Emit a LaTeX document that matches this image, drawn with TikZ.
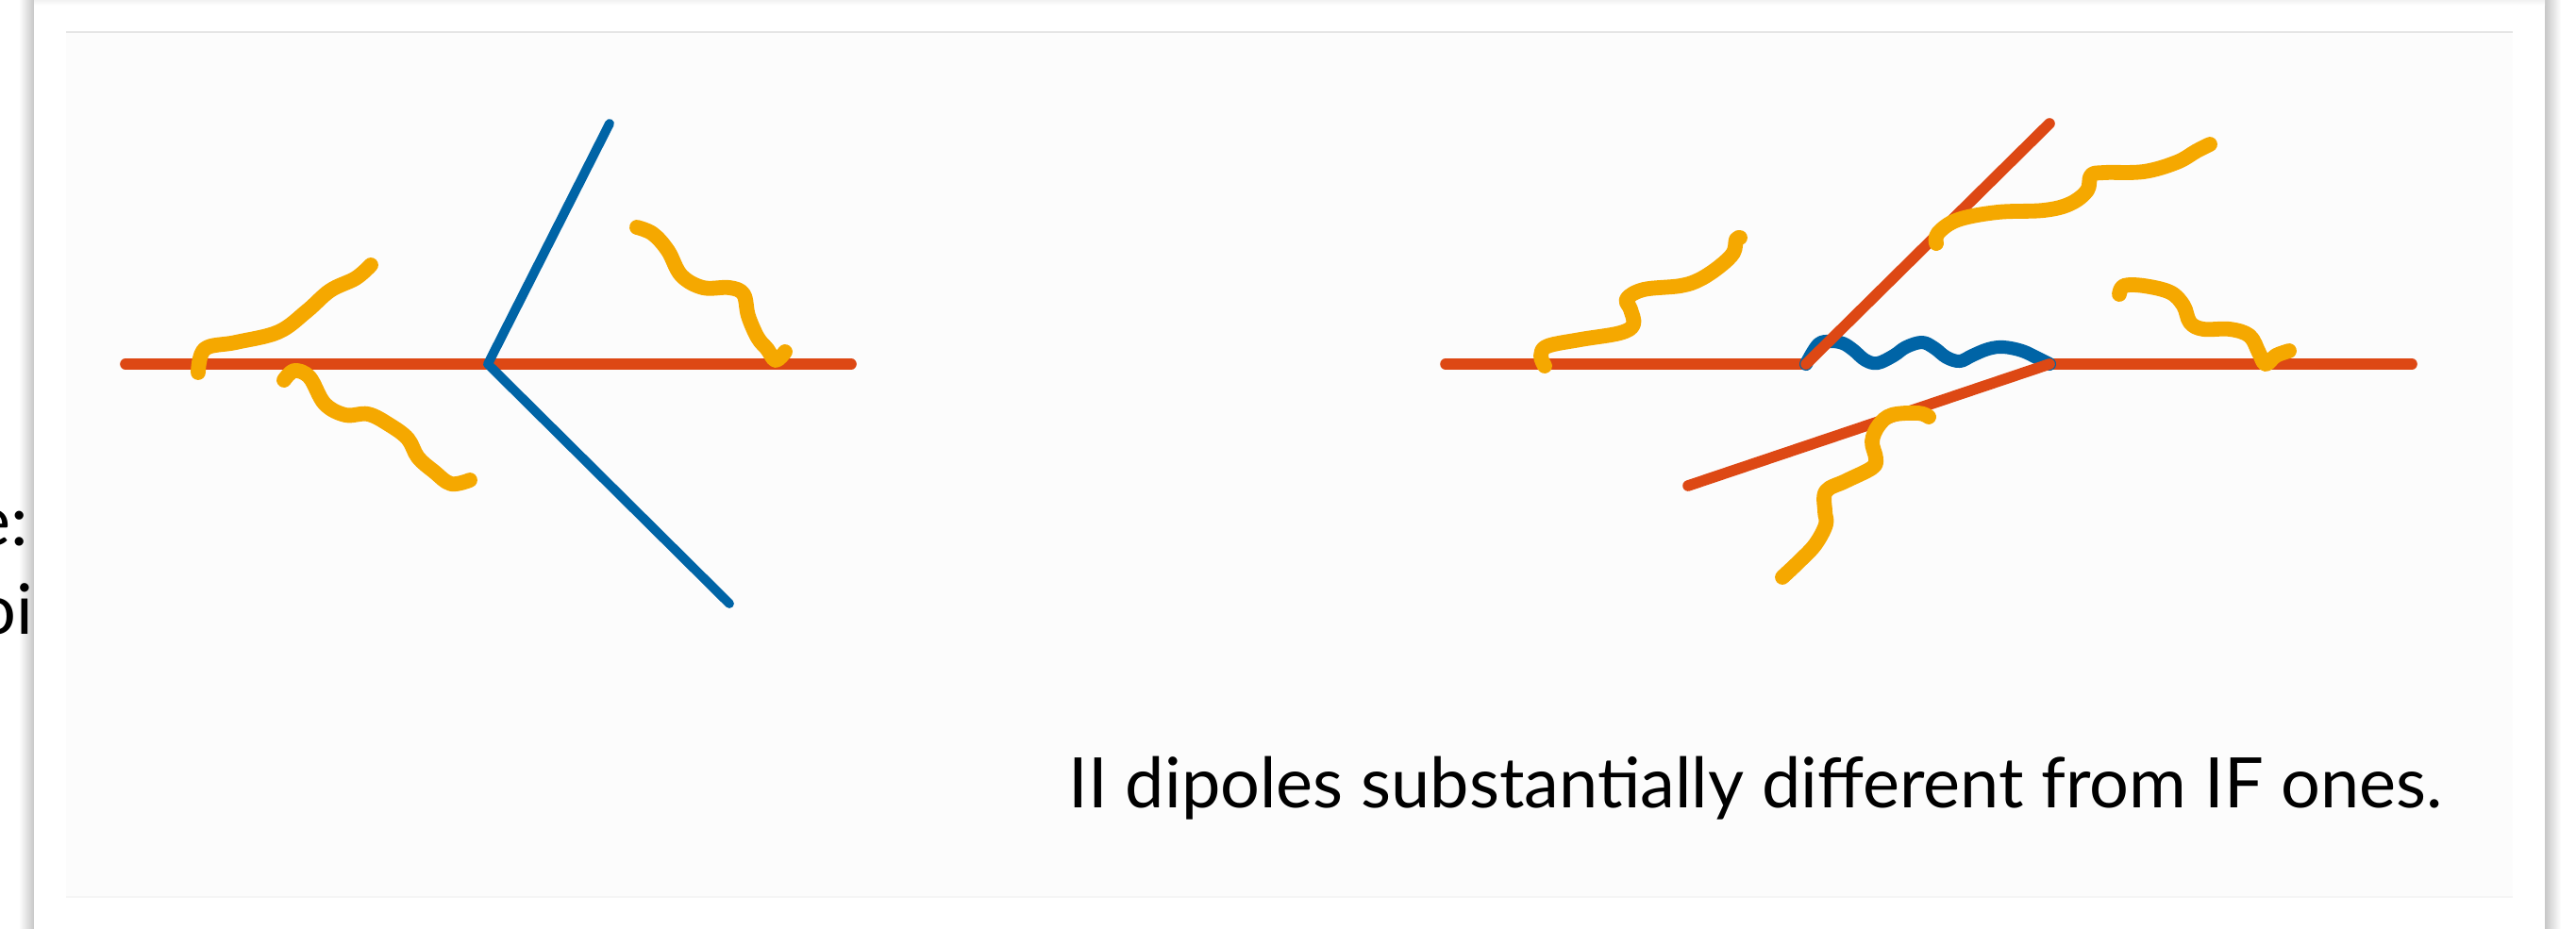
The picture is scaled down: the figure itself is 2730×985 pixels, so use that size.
\documentclass[tikz,border=0pt]{standalone}
\usepackage{fontspec}
\setmainfont{Lato}
\definecolor{qred}{HTML}{DD4814}
\definecolor{qblue}{HTML}{0064A6}
\definecolor{qgamma}{HTML}{F5A800}
\definecolor{qteal}{HTML}{00897B}
\tikzset{
  quark/.style={qred, line width=3.3pt, line cap=round},
  gluon/.style={qblue, line width=2.8pt, line cap=round, line join=round},
  photon/.style={qgamma, line width=4.5pt, line cap=round, line join=round},
  textfont/.style={font=\fontsize{21}{25}\selectfont, inner sep=0pt}
}

\begin{document}
\begin{tikzpicture}[x=0.01cm,y=-0.01cm]
\useasboundingbox (0,0) rectangle (2730,985);

% page behind the slide
\fill[qred] (992,0) rectangle (1000,2);
\fill[qgamma] (2189,0) rectangle (2228,2);
\fill[qteal] (2282,0) rectangle (2296,2);
\fill[qteal] (2323,0) rectangle (2339,2);
\shade[left color=white, right color=black!22] (20,0) rectangle (36,985);
\shade[left color=black!22, right color=white] (2697,0) rectangle (2714,985);
\node[textfont, anchor=base east] (frag1) at (31,578) {e:};
\node[textfont, anchor=base east] (frag2) at (36,672) {oi};

% slide
\fill[white] (36,2) rectangle (2697,985);
\shade[top color=black!5, bottom color=white] (36,0) rectangle (2697,6);
\fill[black!1] (70,34) rectangle (2663,951);
\draw[black!10, line width=0.7pt] (70,34) -- (2663,34);
\draw[black!4, line width=0.5pt] (70,951) -- (2663,951);

% dipole on the left
\coordinate (lq1) at (133,386);
\coordinate (lq2) at (902,386);
\coordinate (lv) at (517,386);
\coordinate (lg1) at (646,131);
\coordinate (lg2) at (773,640);
\draw[quark] (lq1) -- (lq2);
\draw[gluon] (lg1) -- (lv) -- (lg2);
\draw[photon] plot[smooth, tension=0.6] coordinates {(210,395) (217,370) (250,363) (295,352) (325,330) (350,308) (377,295) (393,281)};
\draw[photon] plot[smooth, tension=0.6] coordinates {(301,403) (312,393) (328,400) (344,428) (366,440) (390,439) (412,450) (432,465) (443,485) (460,500) (478,513) (498,509)};
\draw[photon] plot[smooth, tension=0.6] coordinates {(675,241) (692,248) (708,266) (722,292) (745,305) (773,305) (788,312) (793,335) (803,358) (813,370) (822,382) (832,373)};

% dipoles on the right
\coordinate (rq1) at (1532,386);
\coordinate (ra) at (1914,386);
\coordinate (rb) at (2172,386);
\coordinate (rq2) at (2556,386);
\coordinate (rt) at (2172,131);
\coordinate (rs) at (1789,515);
\draw[quark] (rq1) -- (ra);
\draw[quark] (rb) -- (rq2);
\draw[gluon, line width=4pt] plot[smooth, tension=0.6] coordinates {(ra) (1927,365) (1940,362) (1953,364) (1964,371) (1977,382) (1990,385) (2007,377) (2020,368) (2037,363) (2050,369) (2063,379) (2077,383) (2090,377) (2107,370) (2123,368) (2143,372) (2160,380) (rb)};
\draw[quark] (ra) -- (rt);
\draw[quark] (rs) -- (rb);
\draw[photon] plot[smooth, tension=0.6] coordinates {(1637,388) (1633,377) (1640,367) (1675,360) (1717,353) (1731,344) (1728,328) (1724,317) (1742,307) (1781,303) (1802,296) (1823,282) (1837,268) (1840,254) (1844,252)};
\draw[photon] plot[smooth, tension=0.6] coordinates {(2052,258) (2054,247) (2075,233) (2117,225) (2166,223) (2194,216) (2212,202) (2216,186) (2230,183) (2272,182) (2307,172) (2328,160) (2342,153)};
\draw[photon] plot[smooth, tension=0.6] coordinates {(2246,312) (2251,303) (2272,303) (2300,310) (2314,324) (2321,342) (2335,349) (2363,349) (2384,356) (2394,374) (2401,386) (2412,377) (2426,372)};
\draw[photon] plot[smooth, tension=0.6] coordinates {(2044,442) (2033,438) (2005,440) (1991,451) (1984,468) (1988,486) (1984,496) (1956,510) (1935,521) (1934,542) (1935,556) (1924,577) (1907,595) (1889,612)};

\node[textfont, anchor=base west] (caption) at (1132,856) {II dipoles substantially different from IF ones.};
\end{tikzpicture}
\end{document}
